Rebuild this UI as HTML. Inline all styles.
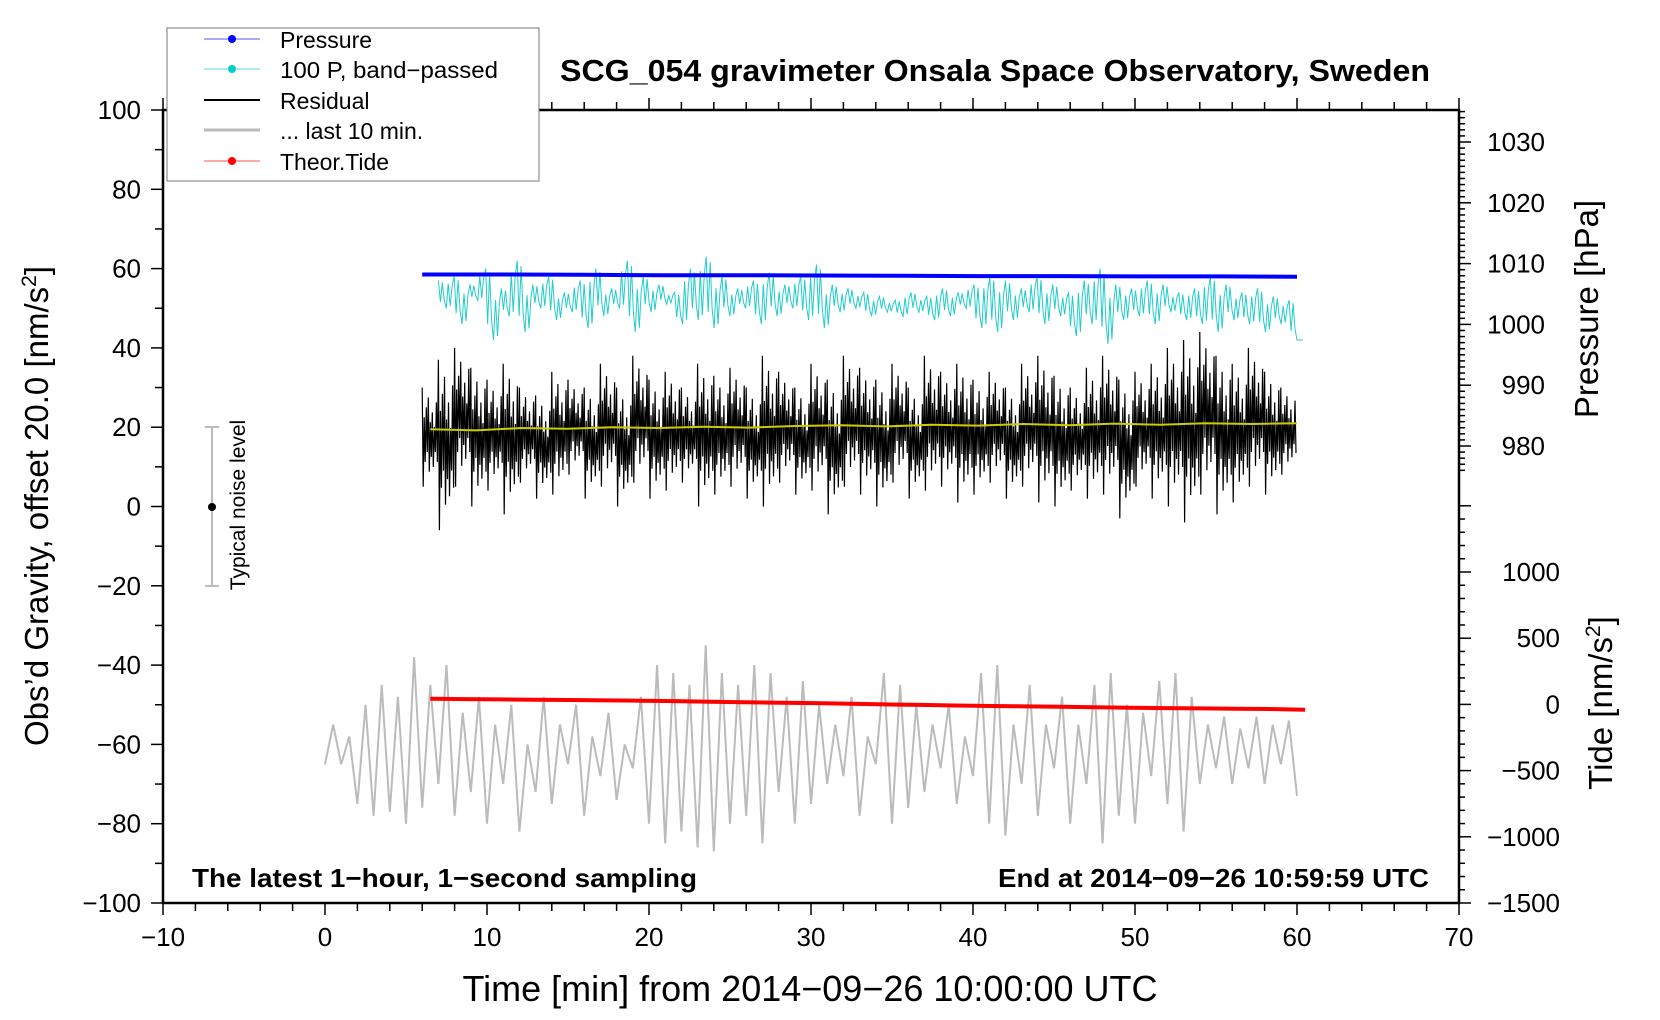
<!DOCTYPE html>
<html><head><meta charset="utf-8">
<style>
html,body{margin:0;padding:0;background:#fff;}
svg{display:block;font-family:"Liberation Sans",sans-serif;}
</style></head>
<body>
<svg id="chart" width="1660" height="1020" viewBox="0 0 1660 1020" xmlns="http://www.w3.org/2000/svg">
<g id="series"></g>
<g id="axes"></g>
<text x="995" y="81" text-anchor="middle" font-size="31" font-weight="bold" textLength="870" lengthAdjust="spacingAndGlyphs">SCG_054 gravimeter Onsala Space Observatory, Sweden</text>
<text x="192" y="887" font-size="26" font-weight="bold" textLength="505" lengthAdjust="spacingAndGlyphs">The latest 1−hour, 1−second sampling</text>
<text x="1429" y="887" text-anchor="end" font-size="26" font-weight="bold" textLength="431" lengthAdjust="spacingAndGlyphs">End at 2014−09−26 10:59:59 UTC</text>
<text x="810" y="1001" text-anchor="middle" font-size="36" textLength="695" lengthAdjust="spacingAndGlyphs">Time [min] from 2014−09−26 10:00:00 UTC</text>
<text transform="translate(48,506) rotate(-90)" text-anchor="middle" font-size="33">Obs’d Gravity, offset 20.0 [nm/s<tspan font-size="21" dy="-12">2</tspan><tspan dy="12">]</tspan></text>
<text transform="translate(1598,309) rotate(-90)" text-anchor="middle" font-size="33">Pressure [hPa]</text>
<text transform="translate(1612,703) rotate(-90)" text-anchor="middle" font-size="33">Tide [nm/s<tspan font-size="21" dy="-12">2</tspan><tspan dy="12">]</tspan></text>
<g>
<line x1="212" y1="427" x2="212" y2="586" stroke="#bbb" stroke-width="2"/>
<line x1="205" y1="427" x2="219" y2="427" stroke="#bbb" stroke-width="2"/>
<line x1="205" y1="586" x2="219" y2="586" stroke="#bbb" stroke-width="2"/>
<circle cx="212" cy="507" r="4" fill="#000"/>
<text transform="translate(245,505) rotate(-90)" text-anchor="middle" font-size="21">Typical noise level</text>
</g>
<g>
<rect x="167" y="28" width="372" height="153" fill="#fff" stroke="#777" stroke-width="1"/>
<g><line x1="204" y1="39" x2="260" y2="39" stroke="#55f" stroke-width="1"/><circle cx="232" cy="39" r="4" fill="#00f"/><text x="280" y="48" font-size="23">Pressure</text></g>
<g><line x1="204" y1="69" x2="260" y2="69" stroke="#5dd" stroke-width="1"/><circle cx="232" cy="69" r="4" fill="#0cc"/><text x="280" y="78" font-size="23" textLength="218" lengthAdjust="spacingAndGlyphs">100 P, band−passed</text></g>
<g><line x1="204" y1="100" x2="260" y2="100" stroke="#000" stroke-width="2"/><text x="280" y="109" font-size="23">Residual</text></g>
<g><line x1="204" y1="130" x2="260" y2="130" stroke="#bbb" stroke-width="3"/><text x="280" y="139" font-size="23">... last 10 min.</text></g>
<g><line x1="204" y1="161" x2="260" y2="161" stroke="#f55" stroke-width="1"/><circle cx="232" cy="161" r="4" fill="#f00"/><text x="280" y="170" font-size="23">Theor.Tide</text></g>
</g>
</svg>
<script>
// ---- data ----
const pressureVals = [1008.2,1008.2,1008.15,1008.1,1008.1,1008.05,1008.0,1007.95,1007.95,1007.9,1007.9,1007.85];
const bandVals = [57,50,58,46,56,52,60,42,55,48,62,44,56,50,58,47,54,49,57,45,60,48,55,50,62,44,58,49,56,51,54,46,60,47,63,45,58,48,55,50,57,46,59,48,56,50,58,47,61,45,56,49,55,50,54,48,53,49,52,48,54,49,53,47,55,48,54,50,56,45,58,44,57,47,55,49,58,46,56,48,54,43,57,46,60,41,56,47,55,48,57,46,56,49,54,47,55,46,58,44,56,47,54,46,55,44,53,46,52,42];
const resHi = [30,37,40,35,32,36,30,28,34,32,30,36,30,38,32,34,30,36,33,35,30,38,34,30,36,32,38,35,32,36,30,38,34,36,32,34,30,36,38,33,30,35,38,32,34,36,40,42,44,38,36,40,34,30];
const resLo = [5,-6,5,0,4,-2,6,2,3,8,2,5,0,6,2,4,6,0,3,5,2,0,6,3,4,-2,5,3,0,6,2,4,5,1,3,6,2,5,1,0,4,2,3,-3,5,2,0,-4,3,-2,1,5,3,8];
const smoothVals = [19.5,19.2,19.8,19.6,20.0,19.8,20.1,19.9,20.3,20.5,20.2,20.6,20.4,20.8,20.5,20.9,20.6,21.0,20.8,21.0];
const last10Vals = [-65,-55,-65,-58,-75,-50,-78,-45,-77,-48,-80,-38,-76,-45,-70,-40,-78,-52,-72,-48,-80,-55,-70,-50,-82,-60,-72,-48,-75,-55,-65,-50,-78,-58,-68,-52,-74,-60,-66,-48,-80,-40,-85,-42,-82,-45,-86,-35,-87,-42,-80,-45,-78,-40,-85,-42,-72,-48,-80,-44,-75,-50,-70,-55,-68,-48,-78,-58,-65,-42,-80,-45,-76,-50,-72,-55,-66,-50,-75,-58,-68,-42,-80,-40,-83,-55,-70,-45,-78,-55,-66,-48,-80,-55,-70,-45,-85,-42,-78,-50,-80,-52,-68,-44,-75,-42,-82,-48,-70,-55,-66,-53,-70,-56,-66,-53,-70,-55,-65,-54,-73];
const tideVals = [42,40,38,35,33,30,28,25,20,16,12,10,5,0,-4,-8,-12,-15,-18,-22,-25,-28,-30,-33,-35,-40];
const xTicks = [-10,0,10,20,30,40,50,60,70];
const yTicks = [100,80,60,40,20,0,-20,-40,-60,-80,-100];
const pTicks = [1030,1020,1010,1000,990,980];
const tTicks = [1000,500,0,-500,-1000,-1500];

// ---- scales ----
const L=163,R=1459,T=110,B=903;
const X = t => L + (t+10)*(R-L)/80;
const Y = v => B - (v+100)*(B-T)/200;
const YP = p => 142 + (1030-p)*(446-142)/50;
const YT = v => 903 - (v+1500)*(903-572)/2500;
const NS="http://www.w3.org/2000/svg";
const S=document.getElementById('series'), A=document.getElementById('axes');
function mk(tag,attrs,parent){const e=document.createElementNS(NS,tag);for(const k in attrs)e.setAttribute(k,attrs[k]);parent.appendChild(e);return e;}
function spread(vals,t0,t1){return vals.map((v,i)=>[t0+i*(t1-t0)/(vals.length-1),v]);}

// last 10 min (gray)
let g = mk('polyline',{points:spread(last10Vals,0,60).map(([t,v])=>X(t).toFixed(1)+','+Y(v).toFixed(1)).join(' '),fill:'none',stroke:'#bbb','stroke-width':2},S);



// tide (red)
let td = mk('polyline',{points:spread(tideVals,6.5,60.5).map(([t,v])=>X(t).toFixed(1)+','+YT(v).toFixed(1)).join(' '),fill:'none',stroke:'#f00','stroke-width':4},S);



// band-passed (cyan): each reading drawn with finer wiggles around it
const bfac=[1,0.55,0.85,0.45];
let bpts=[];
const bs=spread(bandVals,7,60), bstep=53/(bandVals.length-1);
bs.forEach(([t,v],i)=>{
  const nxt = i<bs.length-1 ? bs[i+1][1] : v;
  const mid=(v+nxt)/2;
  for(let k=0;k<bfac.length;k++){
    const tt=t+k*bstep/bfac.length;
    const val= k%2===0 ? mid+(v-mid)*bfac[k] : mid+(nxt-mid)*bfac[k];
    bpts.push(X(tt).toFixed(1)+','+Y(val).toFixed(1));
  }
});
let bp = mk('polyline',{points:bpts.join(' '),fill:'none',stroke:'#2cc','stroke-width':1},S);



// residual (black)
const fac=[1,-1,0.4,-0.5,0.6,-0.3,0.8,-0.7,0.3,-0.4,0.5,-0.6,0.2,-0.3,0.7,-0.5];
let rp=[];
const nb=resHi.length, bw=54/nb;
for(let i=0;i<nb;i++){
  const mid=(resHi[i]+resLo[i])/2, amp=(resHi[i]-resLo[i])/2;
  for(let k=0;k<fac.length;k++){
    const t=6+i*bw+k*bw/fac.length;
    rp.push(X(t).toFixed(1)+','+Y(mid+amp*fac[k]).toFixed(1));
  }
}
let rs = mk('polyline',{points:rp.join(' '),fill:'none',stroke:'#000','stroke-width':1.2},S);



// smoothed (yellow)
let sm = mk('polyline',{points:spread(smoothVals,6.5,60).map(([t,v])=>X(t).toFixed(1)+','+Y(v).toFixed(1)).join(' '),fill:'none',stroke:'#cc0','stroke-width':2},S);



// pressure (blue)
let pr = mk('polyline',{points:spread(pressureVals,6,60).map(([t,v])=>X(t).toFixed(1)+','+YP(v).toFixed(1)).join(' '),fill:'none',stroke:'#00f','stroke-width':4},S);



// ---- axes ----
let fr = mk('rect',{x:L,y:T,width:R-L,height:B-T,fill:'none',stroke:'#000','stroke-width':2.5},A);


function ln(x1,y1,x2,y2,w){mk('line',{x1,y1,x2,y2,stroke:'#000','stroke-width':w||1.5},A);}
for(let t=-10;t<=70;t+=2){const big=t%10===0;ln(X(t),B,X(t),B+(big?12:8));ln(X(t),T,X(t),T-(big?12:8));}
for(let v=-100;v<=100;v+=10){ln(L,Y(v),L-(v%20===0?12:8),Y(v));}
for(let p=1035;p>=976;p--){ln(R,YP(p),R+(p%10===0?12:6),YP(p));}
for(let v=-1500;v<=1500;v+=100){const y=YT(v);if(y<500)continue;ln(R,y,R+(v%500===0?12:6),y);}
xTicks.forEach(t=>{const e=mk('text',{x:X(t),y:946,'text-anchor':'middle','font-size':26},A);e.textContent=String(t).replace('-','−');

});
yTicks.forEach(v=>{const e=mk('text',{x:L-22,y:Y(v)+9,'text-anchor':'end','font-size':26},A);e.textContent=String(v).replace('-','−');

});
pTicks.forEach(p=>{const e=mk('text',{x:1545,y:YP(p)+9,'text-anchor':'end','font-size':26},A);e.textContent=String(p);

});
tTicks.forEach(v=>{const e=mk('text',{x:1560,y:YT(v)+9,'text-anchor':'end','font-size':26},A);e.textContent=String(v).replace('-','−');

});
</script>
</body></html>
